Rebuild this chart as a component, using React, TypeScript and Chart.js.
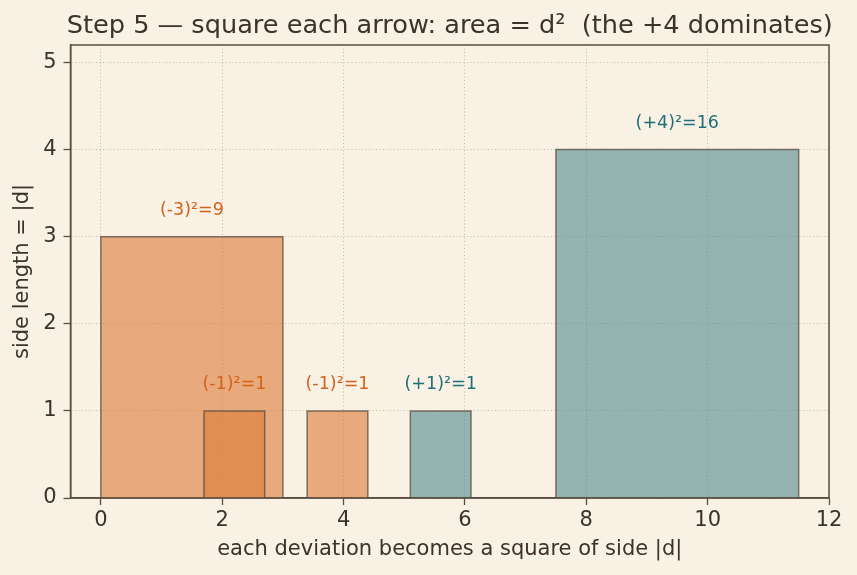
import React, { useEffect, useRef } from "react";
import { Chart, registerables } from "chart.js";

Chart.register(...registerables);

// ---- data ----
const deviations = [-3, -1, -1, 1, 4];
const squareStarts = [0, 1.7, 3.4, 5.1, 7.5];
const xTicks = [0, 2, 4, 6, 8, 10, 12];
const yTicks = [0, 1, 2, 3, 4, 5];
const xRange = [-0.5, 12];
const yRange = [0, 5.2];
const titleText = "Step 5 — square each arrow: area = d²  (the +4 dominates)";
const xLabel = "each deviation becomes a square of side |d|";
const yLabel = "side length = |d|";

// ---- styles ----
const FONT = "'DejaVu Sans', 'Liberation Sans', sans-serif";
const BG = "#f9f1e3";
const TEXT = "#3a332c";
const AXIS = "#5a4e42";
const GRID = "rgba(150,138,120,0.55)";
const NEG_FILL = "rgba(220,124,55,0.6)";
const POS_FILL = "rgba(81,139,142,0.6)";
const EDGE = "rgba(85,74,62,0.75)";
const NEG_TEXT = "#d4621c";
const POS_TEXT = "#1f6f78";

const labelFor = (d: number) => `(${d > 0 ? "+" : ""}${d})²=${d * d}`;

export default function App() {
  const ref = useRef<HTMLCanvasElement | null>(null);

  useEffect(() => {
    if (!ref.current) return;
    const n = deviations.length;
    const datasets = deviations.map((d, i) => {
      const s = Math.abs(d);
      const x0 = squareStarts[i];
      const x1 = x0 + s;
      return {
        label: labelFor(d),
        data: [
          { x: x0, y: 0 },
          { x: x0, y: s },
          { x: x1, y: s },
          { x: x1, y: 0 },
        ],
        borderColor: EDGE,
        borderWidth: 1.5,
        backgroundColor: d < 0 ? NEG_FILL : POS_FILL,
        fill: "origin",
        pointRadius: 0,
        tension: 0,
        order: n - i,
      };
    });

    const bgPlugin = {
      id: "bg",
      beforeDraw(chart: any) {
        const { ctx, width, height } = chart;
        ctx.save();
        ctx.fillStyle = BG;
        ctx.fillRect(0, 0, width, height);
        ctx.restore();
      },
    };

    const decoPlugin = {
      id: "deco",
      afterDatasetsDraw(chart: any) {
        const { ctx, scales } = chart;
        ctx.save();
        ctx.font = `17.5px ${FONT}`;
        ctx.textAlign = "center";
        ctx.textBaseline = "alphabetic";
        deviations.forEach((d, i) => {
          const s = Math.abs(d);
          const cx = scales.x.getPixelForValue(squareStarts[i] + s / 2);
          const cy = scales.y.getPixelForValue(s + 0.25);
          ctx.fillStyle = d < 0 ? NEG_TEXT : POS_TEXT;
          ctx.fillText(labelFor(d), cx, cy);
        });
        ctx.restore();
      },
      afterDraw(chart: any) {
        const { ctx, chartArea } = chart;
        ctx.save();
        ctx.strokeStyle = AXIS;
        ctx.lineWidth = 1.5;
        ctx.strokeRect(
          chartArea.left,
          chartArea.top,
          chartArea.right - chartArea.left,
          chartArea.bottom - chartArea.top
        );
        ctx.fillStyle = TEXT;
        ctx.font = `25.6px ${FONT}`;
        ctx.textAlign = "center";
        ctx.textBaseline = "alphabetic";
        ctx.fillText(titleText, (chartArea.left + chartArea.right) / 2, 33);
        ctx.restore();
      },
    };

    const gridOpts = {
      color: GRID,
      lineWidth: 1,
      tickColor: AXIS,
      tickLength: 7,
      tickWidth: 1.3,
      tickBorderDash: [],
    };

    const chart = new Chart(ref.current, {
      type: "line",
      data: { datasets } as any,
      options: {
        animation: false,
        responsive: false,
        devicePixelRatio: 1,
        layout: { padding: { left: 0, right: 28, top: 45, bottom: 0 } },
        plugins: {
          legend: { display: false },
          tooltip: { enabled: false },
          title: { display: false },
        },
        scales: {
          x: {
            type: "linear",
            min: xRange[0],
            max: xRange[1],
            afterBuildTicks: (s: any) => {
              s.ticks = xTicks.map((v) => ({ value: v }));
            },
            afterFit: (s: any) => {
              s.height = 77;
            },
            ticks: {
              color: TEXT,
              font: { family: FONT, size: 21 },
              padding: 3,
              maxRotation: 0,
              autoSkip: false,
            },
            grid: gridOpts as any,
            border: { display: true, color: AXIS, width: 1.5, dash: [1, 2.5] },
            title: {
              display: true,
              text: xLabel,
              color: TEXT,
              font: { family: FONT, size: 21 },
              padding: { top: 0, bottom: 13 },
            },
          },
          y: {
            type: "linear",
            min: yRange[0],
            max: yRange[1],
            afterBuildTicks: (s: any) => {
              s.ticks = yTicks.map((v) => ({ value: v }));
            },
            afterFit: (s: any) => {
              s.width = 70.5;
            },
            ticks: {
              color: TEXT,
              font: { family: FONT, size: 21 },
              padding: 7,
              autoSkip: false,
            },
            grid: gridOpts as any,
            border: { display: true, color: AXIS, width: 1.5, dash: [1, 2.5] },
            title: {
              display: true,
              text: yLabel,
              color: TEXT,
              font: { family: FONT, size: 21 },
              padding: { top: 10, bottom: 0 },
            },
          },
        },
      },
      plugins: [bgPlugin, decoPlugin],
    } as any);

    return () => chart.destroy();
  }, []);

  return (
    <div style={{ position: "absolute", left: 0, top: 0, width: 857, height: 575, background: BG }}>
      <canvas ref={ref} width={857} height={575} style={{ width: 857, height: 575, display: "block" }} />
    </div>
  );
}
